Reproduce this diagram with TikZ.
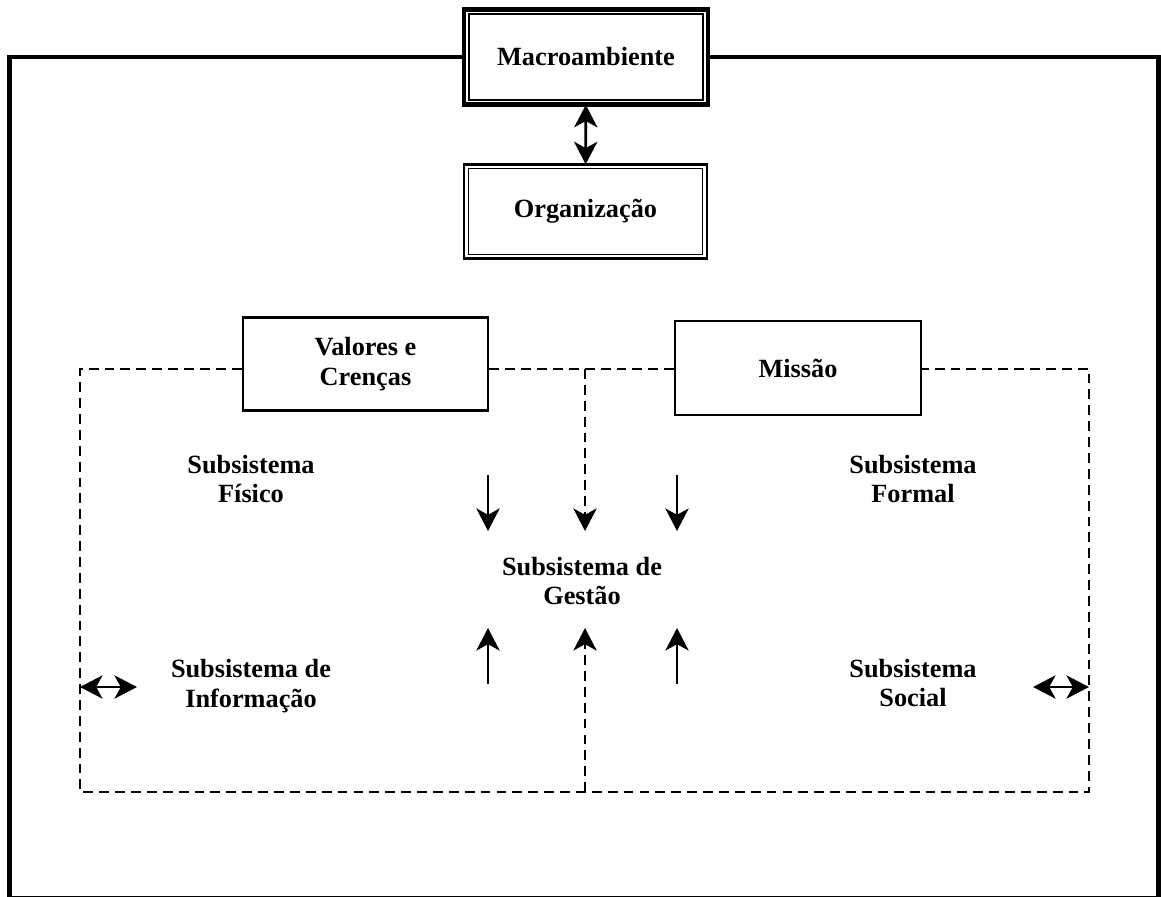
\documentclass[tikz,border=0pt]{standalone}
\usepackage{fontspec}
\setmainfont{Liberation Serif}
\usetikzlibrary{arrows.meta}

\begin{document}
\begin{tikzpicture}[x=0.025cm, y=-0.025cm,
		txt/.style={font=\fontsize{18.7}{20.8}\selectfont\bfseries, align=center, inner sep=0pt},
		box/.style={txt, draw, line width=2pt},
		dbox/.style={txt, draw, outer sep=0pt},
		dline/.style={line width=2pt, dash pattern=on 7pt off 4.3pt},
		arr/.style={line width=2pt, -{Stealth[length=16pt, width=16.5pt, inset=4.5pt]}},
		darr/.style={line width=2pt, {Stealth[length=16pt, width=16.5pt, inset=4.5pt]}-{Stealth[length=16pt, width=16.5pt, inset=4.5pt]}}]
				\useasboundingbox (0,0) rectangle (1161,896);
				\node[dbox, line width=3.4pt, minimum width=6.1cm, minimum height=2.39cm] (macro) at (586,57) {Macroambiente};
				\draw[line width=1.1pt] ([shift={(5,5)}]macro.north west) rectangle ([shift={(-5,-5)}]macro.south east);
				\node[dbox, line width=2pt, minimum width=6.075cm, minimum height=2.36cm] (org) at (585.5,211.5) {Organização};
				\draw[line width=1pt] ([shift={(4.4,4.4)}]org.north west) rectangle ([shift={(-4.4,-4.4)}]org.south east);
				\draw[darr] (macro) -- (org);
				\coordinate (ftl) at (9.5,57);
				\coordinate (fbl) at (9.5,898);
				\coordinate (fbr) at (1158.5,898);
				\coordinate (ftr) at (1158.5,57);
				\draw[line width=3.4pt] (macro.west) -- (ftl) -- (fbl) -- (fbr) -- (ftr) -- (macro.east);
				\node[box, minimum width=6.125cm, minimum height=2.325cm] (valores) at (365.5,364) {Valores e\\Crenças};
				\node[box, minimum width=6.15cm, minimum height=2.35cm] (missao) at (798,368) {Missão};
				\coordinate (dtl) at (80,369);
				\coordinate (dbl) at (80,792);
				\coordinate (dbr) at (1089,792);
				\coordinate (dtr) at (1089,369);
				\coordinate (dtm) at (585,369);
				\coordinate (dbm) at (585,792);
				\draw[dline] (valores.west |- dtl) -- (dtl) -- (dbl) -- (dbr) -- (dtr) -- (missao.east |- dtr);
				\draw[dline] (valores.east |- dtl) -- (missao.west |- dtl);
				\node[txt] (fisico) at (251,479) {Subsistema\\Físico};
				\node[txt] (formal) at (913,479) {Subsistema\\Formal};
				\node[txt] (gestao) at (582,581) {Subsistema de\\Gestão};
				\node[txt] (info) at (251,686) {Subsistema de\\Informação};
				\node[txt] (social) at (913,683) {Subsistema\\Social};
				\coordinate (gt) at (585,531);
				\coordinate (gb) at (585,628);
				\draw[dline, arr] (dtm) -- (gt);
				\draw[dline, arr] (dbm) -- (gb);
				\foreach \x [count=\i] in {488, 677} {
					\coordinate (ta\i) at (\x,475);
					\coordinate (tb\i) at (\x,531);
					\coordinate (ba\i) at (\x,684);
					\coordinate (bb\i) at (\x,628);
					\draw[arr] (ta\i) -- (tb\i);
					\draw[arr] (ba\i) -- (bb\i);
				}
				\coordinate (il) at (80,687);
				\coordinate (ir) at (137,687);
				\coordinate (sl) at (1033,687);
				\coordinate (sr) at (1089,687);
				\draw[darr] (il) -- (ir);
				\draw[darr] (sl) -- (sr);
			\end{tikzpicture}
\end{document}
